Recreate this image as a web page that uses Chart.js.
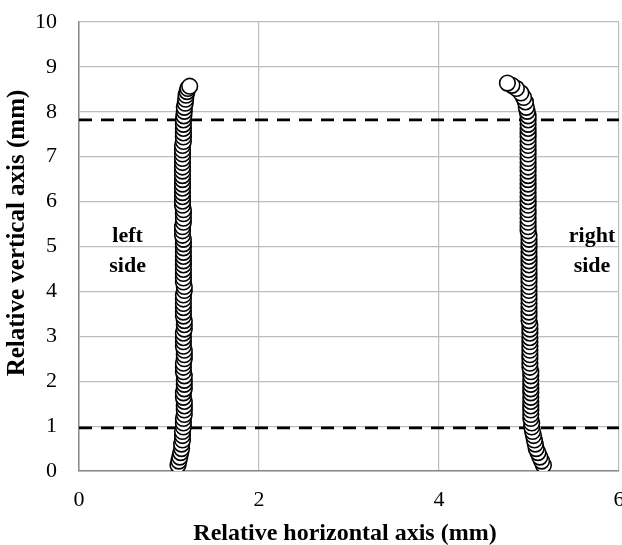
<!DOCTYPE html>
<html>
<head>
<meta charset="utf-8">
<script src="https://cdn.jsdelivr.net/npm/chart.js@4"></script>
<style>
  html, body { margin: 0; padding: 0; background: #fff; }
  canvas { display: block; }
</style>
</head>
<body>
<canvas id="chart" width="622" height="545"></canvas>
<script>
// Left side profile (mm)
const leftX = [1.10, 1.11, 1.12, 1.13, 1.14, 1.14, 1.15, 1.15, 1.15, 1.16,
  1.16, 1.16, 1.17, 1.17, 1.17, 1.17, 1.16, 1.16, 1.17, 1.17,
  1.17, 1.17, 1.16, 1.16, 1.16, 1.17, 1.17, 1.17, 1.16, 1.16,
  1.16, 1.16, 1.17, 1.17, 1.17, 1.16, 1.16, 1.16, 1.16, 1.16,
  1.16, 1.17, 1.17, 1.16, 1.16, 1.16, 1.16, 1.16, 1.16, 1.16,
  1.16, 1.16, 1.16, 1.16, 1.15, 1.15, 1.15, 1.16, 1.16, 1.16,
  1.16, 1.15, 1.15, 1.15, 1.15, 1.15, 1.15, 1.15, 1.15, 1.15,
  1.15, 1.15, 1.15, 1.15, 1.15, 1.15, 1.16, 1.16, 1.16, 1.16,
  1.16, 1.16, 1.165, 1.17, 1.17, 1.18, 1.185, 1.19, 1.20, 1.21, 1.23];
const leftY = [0.13, 0.22, 0.31, 0.41, 0.50, 0.60, 0.69, 0.79, 0.88, 0.98,
  1.07, 1.17, 1.26, 1.36, 1.45, 1.55, 1.64, 1.74, 1.83, 1.93,
  2.02, 2.12, 2.21, 2.31, 2.40, 2.50, 2.59, 2.69, 2.78, 2.88,
  2.97, 3.07, 3.16, 3.26, 3.35, 3.45, 3.54, 3.64, 3.73, 3.83,
  3.92, 4.02, 4.11, 4.21, 4.30, 4.40, 4.49, 4.59, 4.68, 4.78,
  4.87, 4.97, 5.06, 5.16, 5.25, 5.35, 5.44, 5.54, 5.63, 5.73,
  5.82, 5.92, 6.01, 6.11, 6.20, 6.30, 6.39, 6.49, 6.58, 6.68,
  6.77, 6.87, 6.96, 7.06, 7.15, 7.25, 7.34, 7.44, 7.53, 7.63,
  7.72, 7.82, 7.91, 8.01, 8.10, 8.19, 8.28, 8.37, 8.45, 8.52, 8.57];

// Right side profile (mm)
const rightX = [5.16, 5.14, 5.12, 5.10, 5.08, 5.07, 5.06, 5.05, 5.04, 5.03,
  5.03, 5.02, 5.02, 5.02, 5.02, 5.02, 5.02, 5.02, 5.02, 5.02,
  5.02, 5.02, 5.02, 5.01, 5.01, 5.01, 5.01, 5.01, 5.01, 5.01,
  5.01, 5.01, 5.01, 5.01, 5.00, 5.00, 5.00, 5.00, 5.00, 5.00,
  5.00, 5.00, 5.00, 5.00, 5.00, 5.00, 5.00, 5.00, 5.00, 5.00,
  5.00, 5.00, 5.00, 5.00, 5.00, 4.99, 4.99, 4.99, 4.99, 4.99,
  4.99, 4.99, 4.99, 4.99, 4.99, 4.99, 4.99, 4.99, 4.99, 4.99,
  4.99, 4.99, 4.99, 4.99, 4.99, 4.99, 4.99, 4.99, 4.99, 4.99,
  4.99, 4.99, 4.99, 4.98, 4.97, 4.96, 4.94, 4.91, 4.86, 4.81, 4.76];
const rightY = [0.13, 0.22, 0.31, 0.41, 0.50, 0.60, 0.69, 0.79, 0.88, 0.98,
  1.07, 1.17, 1.26, 1.36, 1.45, 1.55, 1.64, 1.74, 1.83, 1.93,
  2.02, 2.12, 2.21, 2.31, 2.40, 2.50, 2.59, 2.69, 2.78, 2.88,
  2.97, 3.07, 3.16, 3.26, 3.35, 3.45, 3.54, 3.64, 3.73, 3.83,
  3.92, 4.02, 4.11, 4.21, 4.30, 4.40, 4.49, 4.59, 4.68, 4.78,
  4.87, 4.97, 5.06, 5.16, 5.25, 5.35, 5.44, 5.54, 5.63, 5.73,
  5.82, 5.92, 6.01, 6.11, 6.20, 6.30, 6.39, 6.49, 6.58, 6.68,
  6.77, 6.87, 6.96, 7.06, 7.15, 7.25, 7.34, 7.44, 7.53, 7.63,
  7.72, 7.82, 7.91, 8.01, 8.10, 8.22, 8.32, 8.42, 8.52, 8.59, 8.64];

// Dashed reference levels
const upperLevel = 7.82;
const lowerLevel = 0.96;
const xRange = [0, 6];

// Text labels inside the plot
const sideLabels = [
  { x: 0.54, y: [5.10, 4.43], lines: ['left', 'side'] },
  { x: 5.70, y: [5.10, 4.43], lines: ['right', 'side'] }
];

const xTitle = 'Relative horizontal axis (mm)';
const yTitle = 'Relative vertical axis (mm)';

const FONT = "'Liberation Serif', 'Times New Roman', serif";

const zip = (xs, ys) => xs.map((x, i) => ({ x: x, y: ys[i] }));

const pointStyle = {
  type: 'scatter',
  showLine: false,
  pointRadius: 7.8,
  pointBackgroundColor: '#ffffff',
  pointBorderColor: '#000000',
  pointBorderWidth: 1.6
};

const dashStyle = {
  type: 'line',
  borderColor: '#000000',
  borderWidth: 2.6,
  borderDash: [13, 9],
  pointRadius: 0,
  fill: false
};

const textPlugin = {
  id: 'textPlugin',
  beforeDraw(chart) {
    const ctx = chart.ctx;
    ctx.save();
    ctx.fillStyle = '#fff';
    ctx.fillRect(0, 0, chart.width, chart.height);
    ctx.restore();
  },
  afterDraw(chart) {
    const ctx = chart.ctx;
    const xs = chart.scales.x, ys = chart.scales.y;
    const area = chart.chartArea;
    ctx.save();
    ctx.fillStyle = '#000';
    ctx.font = "bold 22px " + FONT;
    ctx.textAlign = 'center';
    ctx.textBaseline = 'alphabetic';
    sideLabels.forEach(l => {
      l.lines.forEach((t, i) => {
        ctx.fillText(t, xs.getPixelForValue(l.x), ys.getPixelForValue(l.y[i]));
      });
    });

    // axis titles
    ctx.font = "bold 24px " + FONT;
    ctx.fillText(xTitle, (area.left + area.right) / 2 - 4, 540);
    ctx.font = "bold 25px " + FONT;
    ctx.translate(24, 233);
    ctx.rotate(-Math.PI / 2);
    ctx.fillText(yTitle, 0, 0);
    ctx.restore();
  }
};

new Chart(document.getElementById('chart'), {
  data: {
    datasets: [
      Object.assign({ label: 'left', data: zip(leftX, leftY) }, pointStyle),
      Object.assign({ label: 'right', data: zip(rightX, rightY) }, pointStyle),
      Object.assign({ label: 'upper', data: zip(xRange, [upperLevel, upperLevel]) }, dashStyle),
      Object.assign({ label: 'lower', data: zip(xRange, [lowerLevel, lowerLevel]) }, dashStyle)
    ]
  },
  options: {
    responsive: false,
    animation: false,
    devicePixelRatio: 1,
    layout: { autoPadding: false, padding: { top: 22, right: 3, left: 0, bottom: 0 } },
    plugins: { legend: { display: false }, tooltip: { enabled: false } },
    scales: {
      x: {
        type: 'linear',
        min: 0, max: 6,
        ticks: { stepSize: 2, color: '#000', padding: 16, font: { family: FONT, size: 22 } },
        grid: { color: '#bdbdbd', lineWidth: 1.2, drawTicks: false },
        border: { color: '#8a8a8a', width: 1.5 },
        afterFit: s => { s.height = 74; s.paddingLeft = 0; s.paddingRight = 0; }
      },
      y: {
        type: 'linear',
        min: 0, max: 10,
        ticks: { stepSize: 1, color: '#000', padding: 22, font: { family: FONT, size: 22 } },
        grid: { color: '#bdbdbd', lineWidth: 1.2, drawTicks: false },
        border: { color: '#8a8a8a', width: 1.5 },
        afterFit: s => { s.width = 79; s.paddingTop = 0; s.paddingBottom = 0; }
      }
    }
  },
  plugins: [textPlugin]
});
</script>
</body>
</html>
